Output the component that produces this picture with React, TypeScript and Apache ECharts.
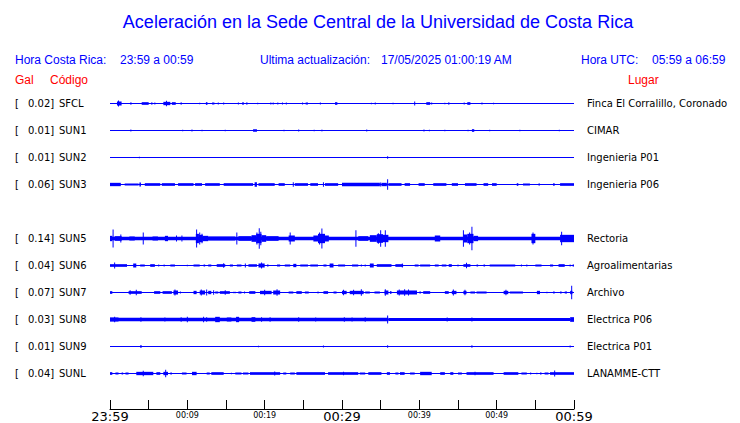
import React, { useEffect, useRef } from "react";
import * as echarts from "echarts";

// ---- data -------------------------------------------------------------
const TIME_LABELS = ["23:59", "00:09", "00:19", "00:29", "00:39", "00:49", "00:59"];
const CODES = ["SFCL", "SUN1", "SUN2", "SUN3", "SUN5", "SUN6", "SUN7", "SUN8", "SUN9", "SUNL"];
const PEAK_GAL = ["0.02", "0.01", "0.01", "0.06", "0.14", "0.04", "0.07", "0.03", "0.01", "0.04"];
const PLACES = [
  "Finca El Corralillo, Coronado",
  "CIMAR",
  "Ingenieria P01",
  "Ingenieria P06",
  "Rectoria",
  "Agroalimentarias",
  "Archivo",
  "Electrica P06",
  "Electrica P01",
  "LANAMME-CTT",
];
const SLOTS = [0, 1, 2, 3, 5, 6, 7, 8, 9, 10];

// envelopes: [minute start, minute end, relative amplitude]
const SFCL_ENV = [
  [0.9, 1.5, 6], [1.1, 1.1, 9], [2.6, 2.8, 3], [4.1, 5.0, 4], [5.3, 5.5, 3], [5.8, 5.8, 3],
  [6.9, 7.8, 5], [7.3, 7.3, 8], [8.0, 8.5, 4], [9.2, 9.2, 4], [11.6, 11.6, 2], [12.4, 12.6, 4],
  [13.2, 13.5, 3], [14.0, 14.0, 3], [14.7, 14.7, 3], [16.6, 16.6, 3], [17.1, 17.3, 4], [17.7, 17.7, 4],
  [19.1, 19.1, 2], [20.8, 20.8, 3], [21.1, 21.1, 3], [21.7, 21.7, 3], [22.3, 22.3, 3], [22.8, 22.8, 3],
  [24.9, 24.9, 3], [25.3, 25.6, 3], [27.2, 27.2, 3], [29.1, 29.4, 4], [33.8, 33.8, 2], [34.3, 34.3, 3],
  [36.6, 36.6, 2], [39.4, 39.4, 6], [40.9, 41.4, 4], [41.6, 41.6, 3], [43.3, 43.3, 2], [43.7, 43.9, 3],
  [45.8, 45.8, 3], [46.2, 46.6, 4], [48.1, 48.1, 3], [49.6, 49.6, 2],
];
const SUN1_ENV = [
  [2.7, 2.7, 3], [9.4, 9.4, 2], [10.6, 10.6, 3], [11.9, 11.9, 2], [14.9, 14.9, 2], [18.5, 19.0, 4],
  [22.5, 22.5, 2], [24.4, 24.4, 3], [26.4, 26.4, 2], [27.3, 27.5, 2], [33.2, 33.2, 3], [40.6, 40.6, 3],
  [41.3, 41.3, 2], [43.3, 43.3, 2], [46.3, 46.3, 2], [46.8, 47.1, 4], [49.1, 49.1, 2], [53.0, 53.0, 2],
  [58.1, 58.1, 2],
];
const SUN2_ENV = [[3.8, 3.8, 2], [35.9, 35.9, 4]];
const SUN3_ENV = [
  [0, 60, 1.5], [0, 1.4, 5], [1.9, 3.7, 3], [3.8, 4.0, 6], [4.5, 6.5, 4], [6.7, 8.4, 4], [8.8, 10.8, 4],
  [11.0, 11.9, 4], [12.3, 14.2, 4], [14.7, 18.5, 4], [18.7, 19.0, 7], [19.2, 21.3, 4], [21.8, 22.6, 4],
  [23.7, 23.7, 7], [23.9, 25.6, 4], [25.9, 26.9, 4], [27.6, 27.6, 7], [27.8, 29.5, 4], [30.0, 34.9, 5],
  [35.0, 35.0, 6], [35.1, 35.8, 5], [35.9, 35.9, 16], [36.0, 37.7, 4], [38.1, 38.8, 4], [39.9, 40.7, 4],
  [41.8, 43.5, 4], [44.2, 45.0, 4], [45.9, 47.4, 4], [48.3, 48.9, 4], [49.4, 50.0, 4], [52.6, 52.8, 4],
  [53.4, 54.3, 3], [55.4, 55.6, 3], [57.3, 57.5, 4], [58.2, 60, 4],
];
const SUN5_ENV = [
  [0, 60, 5], [0, 0.3, 8], [0.4, 0.4, 27], [0.6, 1.5, 7], [1.4, 1.4, 12], [2.5, 3.2, 6], [4.3, 4.3, 18],
  [5.5, 6.2, 6], [7.1, 7.5, 8], [8.6, 8.6, 9], [9.3, 9.3, 9],
  [11.1, 11.5, 14], [11.5, 12.0, 11], [12.0, 12.7, 8], [11.2, 11.2, 27], [11.6, 11.6, 18], [11.9, 11.9, 14],
  [12.7, 16.2, 6], [16.4, 16.4, 18], [16.6, 18.3, 7],
  [18.3, 18.9, 10], [18.9, 19.6, 14], [19.6, 20.2, 10], [20.2, 21.8, 7], [19.0, 19.0, 18], [19.3, 19.3, 31], [19.5, 19.5, 20],
  [23.1, 23.9, 9], [23.3, 23.3, 18],
  [26.3, 26.9, 9], [26.9, 27.8, 14], [27.8, 28.3, 9], [27.1, 27.1, 18], [27.4, 27.4, 30],
  [31.8, 31.8, 25], [32.1, 33.4, 7],
  [33.6, 34.5, 10], [34.5, 35.3, 13], [35.3, 36.0, 11], [34.7, 34.7, 16], [35.0, 35.0, 25], [35.6, 35.6, 25],
  [42.0, 42.7, 9],
  [45.7, 46.2, 12], [46.2, 47.0, 14], [47.0, 47.6, 8], [45.7, 45.7, 25], [46.5, 46.5, 18], [46.8, 46.8, 35],
  [54.5, 55.0, 14], [54.7, 54.7, 18], [58.2, 60, 11], [58.4, 58.4, 20],
];
const SUN6_ENV = [
  [0, 2.2, 4], [0.6, 0.6, 9], [3.0, 3.4, 6], [3.9, 4.5, 3], [5.2, 5.8, 4], [6.3, 6.3, 3], [7.0, 7.0, 3],
  [7.8, 8.4, 3], [10.0, 10.0, 2], [10.8, 11.6, 3], [12.1, 12.3, 3], [12.7, 13.1, 3], [13.8, 14.9, 4],
  [14.7, 14.7, 7], [15.5, 15.9, 3], [16.4, 17.0, 3], [17.5, 17.5, 6], [17.9, 19.0, 4], [19.2, 20.0, 6],
  [19.6, 19.6, 9], [20.3, 20.5, 3], [21.6, 22.0, 3], [22.6, 23.3, 3], [23.7, 24.1, 5], [24.6, 25.6, 3],
  [25.9, 26.9, 3], [27.6, 28.0, 3], [28.4, 28.9, 6], [29.5, 30.4, 3], [31.3, 32.1, 3], [32.5, 32.5, 3],
  [33.0, 33.0, 3], [33.6, 34.1, 6], [34.5, 36.4, 4], [36.9, 37.9, 4], [37.8, 37.8, 6], [39.4, 39.9, 3],
  [40.1, 41.4, 3], [42.0, 42.5, 3], [42.9, 43.5, 3], [43.8, 44.2, 4], [45.0, 45.0, 3], [45.7, 46.6, 4],
  [46.1, 46.1, 8], [47.4, 47.6, 3], [48.3, 48.5, 3], [49.1, 52.4, 3], [53.2, 53.2, 3], [53.9, 53.9, 3],
  [55.0, 55.8, 3], [56.9, 57.3, 3], [58.0, 58.8, 4], [59.5, 59.5, 3], [59.9, 59.9, 4],
];
const SUN7_ENV = [
  [0, 0.3, 4], [2.4, 4.1, 4], [2.6, 2.6, 7], [3.4, 3.4, 8], [5.7, 6.5, 4], [6.8, 8.0, 4], [8.2, 8.8, 6],
  [8.4, 8.4, 9], [9.1, 9.1, 3], [10.8, 11.2, 5], [11.6, 12.3, 6], [11.8, 11.8, 9], [12.5, 12.5, 9],
  [12.7, 13.1, 5], [13.4, 13.4, 7], [13.6, 14.0, 3], [14.2, 15.5, 4], [14.9, 14.9, 7], [15.9, 16.3, 2],
  [16.6, 17.0, 3], [17.4, 17.4, 3], [18.0, 18.8, 4], [19.4, 20.9, 5], [20.0, 20.0, 8], [21.1, 22.0, 6],
  [21.6, 21.6, 10], [23.1, 23.7, 3], [24.1, 24.8, 4], [25.2, 25.7, 3], [26.9, 26.9, 3], [27.6, 28.2, 4],
  [28.9, 29.3, 3], [30.0, 30.6, 5], [30.2, 30.2, 8], [31.0, 32.8, 5], [31.5, 31.5, 8], [32.5, 32.5, 10],
  [33.0, 33.6, 3], [34.2, 34.9, 3], [35.5, 36.0, 6], [35.6, 35.6, 10], [36.2, 36.4, 4], [37.1, 39.7, 6],
  [37.4, 37.4, 9], [38.1, 38.1, 10], [38.6, 38.6, 9], [40.1, 40.1, 4], [40.5, 41.4, 4], [43.3, 43.8, 4],
  [44.2, 44.8, 5], [44.4, 44.4, 9], [45.7, 46.1, 5], [45.9, 45.9, 8], [46.6, 47.2, 3], [47.4, 48.7, 3],
  [50.9, 51.5, 5], [51.2, 51.2, 8], [51.7, 53.4, 3], [55.2, 55.6, 5], [56.5, 56.5, 2], [57.3, 57.5, 3],
  [58.2, 58.4, 3], [58.8, 59.1, 3], [59.5, 59.8, 5], [59.7, 59.7, 20],
];
const SUN8_ENV = [
  [0, 36.0, 5], [36.0, 59.5, 4.5], [59.5, 60, 7], [0, 1.1, 6], [0.6, 0.6, 8], [4.0, 4.0, 7], [7.1, 7.1, 6],
  [9.2, 9.2, 7], [10.0, 10.0, 8], [12.1, 12.1, 8], [12.5, 12.5, 7], [13.6, 14.2, 8], [15.1, 15.7, 6],
  [16.3, 16.7, 8], [18.3, 18.8, 7], [19.6, 19.6, 7], [20.7, 20.7, 7], [24.4, 24.4, 7], [26.6, 26.6, 6],
  [30.3, 30.3, 7], [31.3, 31.3, 6], [33.0, 33.0, 7], [35.9, 35.9, 12], [43.6, 43.6, 6], [46.8, 46.8, 6],
];
const SUN9_ENV = [[3.9, 4.1, 4], [19.2, 19.2, 2], [27.6, 27.6, 3], [35.9, 35.9, 4], [46.8, 46.8, 4], [59.5, 59.5, 3]];
const SUNL_ENV = [
  [0, 0.3, 4], [0.7, 1.1, 3], [1.5, 1.7, 3], [2.0, 2.4, 3], [3.4, 5.6, 5], [4.3, 4.3, 8], [6.0, 6.5, 4],
  [6.9, 7.5, 5], [7.2, 7.2, 11], [7.8, 8.0, 3], [9.3, 9.9, 3], [10.6, 11.2, 5], [12.5, 12.9, 3],
  [13.1, 14.7, 4], [15.7, 15.7, 2], [16.2, 17.0, 3], [17.2, 17.9, 3], [18.1, 22.0, 4], [21.3, 21.3, 6],
  [22.4, 22.8, 3], [23.3, 23.9, 3], [24.1, 27.8, 4], [28.2, 32.1, 4], [30.2, 30.2, 5], [32.3, 33.0, 3],
  [33.4, 35.1, 4], [35.8, 36.2, 4], [36.9, 37.3, 3], [37.5, 38.1, 4], [38.8, 39.4, 3], [40.1, 41.6, 5],
  [42.7, 43.3, 4], [44.0, 44.4, 4], [45.0, 45.5, 3], [46.1, 49.6, 4], [47.2, 47.2, 5], [50.9, 52.8, 4],
  [53.2, 53.9, 3], [54.4, 54.4, 3], [55.2, 55.2, 2], [55.6, 55.8, 3], [56.2, 56.7, 3], [56.9, 60, 4],
  [57.5, 57.5, 9],
];
const ENVELOPES = [SFCL_ENV, SUN1_ENV, SUN2_ENV, SUN3_ENV, SUN5_ENV, SUN6_ENV, SUN7_ENV, SUN8_ENV, SUN9_ENV, SUNL_ENV];

// ---- styling ------------------------------------------------------------
const BLUE = "#0000ff";
const RED = "#ff0000";
const SANS = '"DejaVu Sans", sans-serif';
const ARIAL = '"Liberation Sans", Arial, sans-serif';
const AMP_UNIT = 1 / 81; // relative amplitude -> slot units

export default function App() {
  const ref = useRef<HTMLDivElement>(null);

  useEffect(() => {
    if (!ref.current) return;
    const chart = echarts.init(ref.current, null, { renderer: "svg" });

    const envData: number[][] = [];
    ENVELOPES.forEach((env, i) => {
      env.forEach(([t0, t1, a]) => envData.push([SLOTS[i], t0, t1, a]));
    });

    const slotLabel = (v: number, side: "left" | "right") => {
      const i = SLOTS.indexOf(Math.round(v));
      if (i < 0 || Math.abs(v - Math.round(v)) > 1e-6) return "";
      return side === "left" ? `{b|[}{v|${PEAK_GAL[i]}]}{c|${CODES[i]}}` : PLACES[i];
    };

    const baselines = SLOTS.map((s) => ({
      type: "line",
      xAxisIndex: 0,
      yAxisIndex: 0,
      data: [
        [0, s],
        [60, s],
      ],
      symbol: "none",
      lineStyle: { color: BLUE, width: 1 },
      silent: true,
      z: 2,
    }));

    const option: any = {
      animation: false,
      backgroundColor: "#ffffff",
      grid: [
        { left: 110, right: 166, top: 76.5, bottom: 22.5 },
        { left: 110, right: 166, top: 380, bottom: 13 },
      ],
      xAxis: [
        { type: "value", gridIndex: 0, min: 0, max: 60, show: false },
        {
          type: "value",
          gridIndex: 1,
          min: 0,
          max: 60,
          interval: 5,
          splitLine: { show: false },
          axisLine: { show: true, lineStyle: { color: "#000", width: 1 } },
          axisTick: { show: true, inside: true, length: 9, lineStyle: { color: "#000" } },
          axisLabel: {
            show: true,
            margin: 1,
            showMinLabel: true,
            showMaxLabel: true,
            hideOverlap: false,
            formatter: (v: number) => {
              if (Math.round(v) % 10 !== 0) return "";
              const i = Math.round(v) / 10;
              return i % 3 === 0 ? `{big|${TIME_LABELS[i]}}` : `{small|${TIME_LABELS[i]}}`;
            },
            rich: {
              big: { fontSize: 13, fontFamily: SANS, color: "#000", lineHeight: 13 },
              small: { fontSize: 8, fontFamily: SANS, color: "#000", lineHeight: 10 },
            },
          },
        },
      ],
      yAxis: [
        {
          type: "value",
          gridIndex: 0,
          min: -1,
          max: 11,
          interval: 1,
          inverse: true,
          position: "left",
          splitLine: { show: false },
          axisLine: { show: false },
          axisTick: { show: false },
          axisLabel: {
            margin: 95,
            align: "left",
            formatter: (v: number) => slotLabel(v, "left"),
            rich: {
              b: { fontSize: 10, fontFamily: SANS, color: "#000", width: 13 },
              v: { fontSize: 10, fontFamily: SANS, color: "#000", width: 31 },
              c: { fontSize: 10, fontFamily: SANS, color: "#000" },
            },
          },
        },
        {
          type: "value",
          gridIndex: 0,
          min: -1,
          max: 11,
          interval: 1,
          inverse: true,
          position: "right",
          splitLine: { show: false },
          axisLine: { show: false },
          axisTick: { show: false },
          axisLabel: {
            margin: 13,
            align: "left",
            fontSize: 10,
            fontFamily: SANS,
            color: "#000",
            formatter: (v: number) => slotLabel(v, "right"),
          },
        },
        { type: "value", gridIndex: 1, min: 0, max: 1, show: false },
      ],
      series: [
        ...baselines,
        {
          type: "custom",
          xAxisIndex: 0,
          yAxisIndex: 0,
          data: envData,
          encode: { x: [1, 2], y: 0 },
          silent: true,
          z: 3,
          renderItem: (params: any, api: any) => {
            const slot = api.value(0);
            const t0 = api.value(1);
            const t1 = api.value(2);
            const a = api.value(3) * AMP_UNIT;
            const p0 = api.coord([t0, slot - a]);
            const p1 = api.coord([t1, slot + a]);
            let w = p1[0] - p0[0];
            let x = p0[0];
            if (w < 1) {
              x = x - 0.5;
              w = 1;
            }
            const y = Math.min(p0[1], p1[1]);
            const h = Math.abs(p1[1] - p0[1]);
            return {
              type: "rect",
              shape: { x, y, width: w, height: h },
              style: { fill: BLUE },
            };
          },
        },
      ],
      graphic: [
        {
          type: "text",
          x: 378,
          y: 22,
          style: {
            text: "Aceleración en la Sede Central de la Universidad de Costa Rica",
            font: `18px ${ARIAL}`,
            fill: BLUE,
            align: "center",
            verticalAlign: "middle",
          },
        },
        { type: "text", x: 15, y: 60, style: { text: "Hora Costa Rica:", font: `12px ${ARIAL}`, fill: BLUE, verticalAlign: "middle" } },
        { type: "text", x: 120, y: 60, style: { text: "23:59 a 00:59", font: `12px ${ARIAL}`, fill: BLUE, verticalAlign: "middle" } },
        { type: "text", x: 260, y: 60, style: { text: "Ultima actualización:", font: `12px ${ARIAL}`, fill: BLUE, verticalAlign: "middle" } },
        { type: "text", x: 381, y: 60, style: { text: "17/05/2025 01:00:19 AM", font: `12px ${ARIAL}`, fill: BLUE, verticalAlign: "middle" } },
        { type: "text", x: 581, y: 60, style: { text: "Hora UTC:", font: `12px ${ARIAL}`, fill: BLUE, verticalAlign: "middle" } },
        { type: "text", x: 652, y: 60, style: { text: "05:59 a 06:59", font: `12px ${ARIAL}`, fill: BLUE, verticalAlign: "middle" } },
        { type: "text", x: 15, y: 80, style: { text: "Gal", font: `12px ${ARIAL}`, fill: RED, verticalAlign: "middle" } },
        { type: "text", x: 50, y: 80, style: { text: "Código", font: `12px ${ARIAL}`, fill: RED, verticalAlign: "middle" } },
        { type: "text", x: 628, y: 80, style: { text: "Lugar", font: `12px ${ARIAL}`, fill: RED, verticalAlign: "middle" } },
      ],
    };

    chart.setOption(option);
    return () => chart.dispose();
  }, []);

  return (
    <div
      ref={ref}
      style={{ position: "fixed", left: 0, top: 0, width: 740, height: 423, background: "#fff" }}
    />
  );
}
